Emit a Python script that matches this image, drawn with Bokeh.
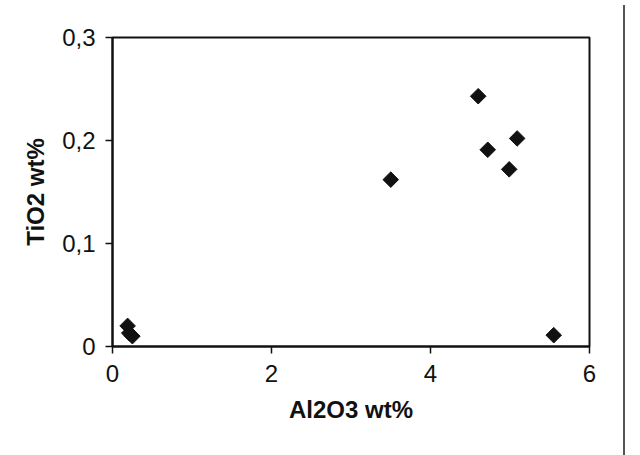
import math
from bokeh.plotting import figure
from bokeh.models import FixedTicker, Div, Range1d
from bokeh.layouts import row
from bokeh.embed import file_html
from bokeh.resources import INLINE

al2o3 = [0.19, 0.21, 0.25, 3.50, 4.60, 4.72, 4.99, 5.09, 5.55]
tio2 = [0.020, 0.013, 0.010, 0.162, 0.243, 0.191, 0.172, 0.202, 0.011]
x_ticks = [0, 2, 4, 6]
y_ticks = [0, 0.1, 0.2, 0.3]
y_tick_labels = ["0", "0,1", "0,2", "0,3"]

p = figure(width=618, height=440, frame_width=477, frame_height=309,
           min_border_left=112, min_border_top=37, min_border_right=29,
           min_border_bottom=94,
           x_range=Range1d(0, 6), y_range=Range1d(0, 0.3),
           output_backend="svg", toolbar_location=None)
p.scatter(al2o3, tio2, marker="square", size=11, angle=math.pi / 4,
          color="#111111")

p.grid.visible = False
p.outline_line_color = "#111111"
p.outline_line_width = 2
for ax in (p.xaxis[0], p.yaxis[0]):
    ax.axis_line_color = "#111111"
    ax.axis_line_width = 2
    ax.major_tick_line_color = "#111111"
    ax.major_tick_line_width = 1.5
    ax.major_tick_out = 7
    ax.major_tick_in = 0
    ax.minor_tick_line_color = None
    ax.major_label_text_font = "Liberation Sans"
    ax.major_label_text_font_size = "24px"
    ax.major_label_text_color = "#111111"
    ax.axis_label_text_font = "Liberation Sans"
    ax.axis_label_text_font_size = "24px"
    ax.axis_label_text_font_style = "bold"
    ax.axis_label_text_color = "#111111"

p.xaxis.ticker = FixedTicker(ticks=x_ticks)
p.yaxis.ticker = FixedTicker(ticks=y_ticks)
p.yaxis.major_label_overrides = {t: l for t, l in zip(y_ticks, y_tick_labels)}
p.xaxis.major_label_overrides = {t: str(t) for t in x_ticks}
p.xaxis.axis_label = "Al2O3 wt%"
p.yaxis.axis_label = "TiO2 wt%"
p.xaxis.major_label_standoff = 11
p.yaxis.major_label_standoff = 10
p.xaxis.axis_label_standoff = 11
p.yaxis.axis_label_standoff = 10

border = Div(text="", width=4, height=455,
             styles={"border-left": "2px solid #555555", "height": "455px"})

layout = row(p, border)
open("out.html", "w").write(file_html(layout, INLINE))
